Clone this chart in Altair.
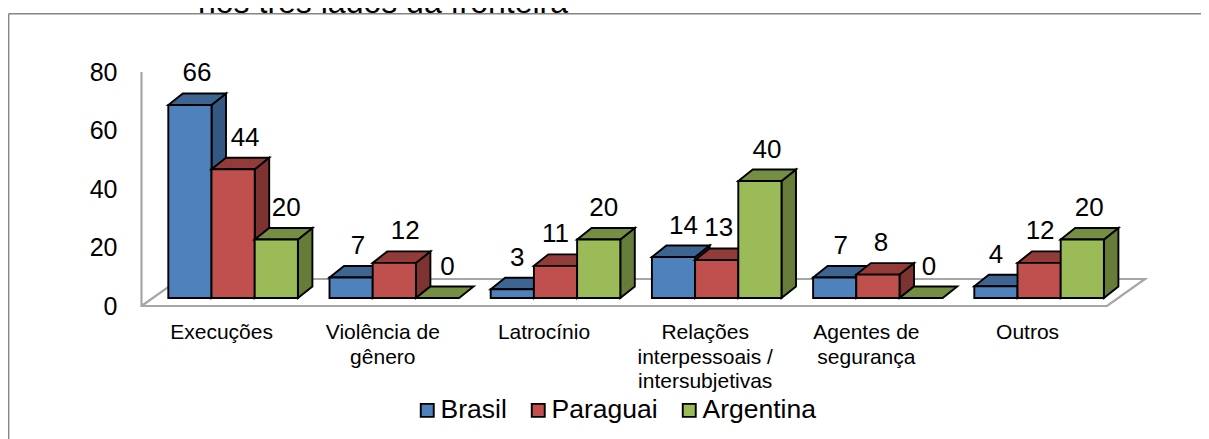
import altair as alt
import pandas as pd

categories = ["Execuções", "Violência de\ngênero", "Latrocínio",
              "Relações\ninterpessoais /\nintersubjetivas", "Agentes de\nsegurança", "Outros"]
series = ["Brasil", "Paraguai", "Argentina"]
brasil = [66, 7, 3, 14, 7, 4]
paraguai = [44, 12, 11, 13, 8, 12]
argentina = [20, 0, 20, 40, 0, 20]
values = [brasil, paraguai, argentina]
ticks = [0, 20, 40, 60, 80]
front_colors = ["#4F81BD", "#C0504D", "#9BBB59"]
top_colors = ["#3E6592", "#923B39", "#758E44"]
side_colors = ["#355882", "#7D3331", "#667C38"]
title_text = "nos três lados da fronteira"

W, H = 1193, 431
PERIOD = 161.2          # px per category
BAR = 43.2              # px per bar
PXU = 2.925             # px per y unit
X0 = 160.3              # first bar's left edge inside the svg, px
Y0 = 298                # y=0 of the axis inside the svg, px
DX, DY = 14.5, 11.5     # 3-D depth of a bar
BASE = 8 / PXU          # bars stand this far in front of the axis' zero
FLOOR_DEPTH = 27 / PXU
LABEL_SHIFT = [[7, 7, 5, 10, 6, 0], [12, 11, 0, 2, 3, 1], [10, 10, 5, 7, 8, 7]]
EDGE = 1.9

x_scale = alt.Scale(domain=[0, W], range=[0, W], nice=False, zero=False)
y_scale = alt.Scale(domain=[-(H - Y0) / PXU, Y0 / PXU], range=[H, 0], nice=False, zero=False)
y_axis = alt.Axis(values=ticks, domain=False, ticks=False, grid=False, title=None, offset=-109,
                  labelFont="Liberation Sans", labelFontSize=25, labelColor="black", labelPadding=0)
X = lambda f: alt.X(f, type="quantitative", scale=x_scale, axis=None)
Y = lambda f: alt.Y(f, type="quantitative", scale=y_scale, axis=y_axis)

dy_u = DY / PXU
layers = []

# frame (left and top sides; the right side runs off the picture)
frame = pd.DataFrame({"x": [0.7, 0.7], "x2": [0.7, W], "y": [431, 5.7], "y2": [5.7, 5.7]})
layers.append(alt.Chart(frame).transform_calculate(
    yv=f"({Y0}-datum.y)/{PXU}", yv2=f"({Y0}-datum.y2)/{PXU}"
).mark_rule(color="#858585", strokeWidth=1.4).encode(
    x=X("x"), x2="x2:Q", y=Y("yv"), y2="yv2:Q"))

# floor and wall
fx0, fx1 = 133.5, 1099
floor = pd.DataFrame({"x": [fx0, fx0 + 38, fx1 + 38, fx1, fx0, fx0],
                      "v": [0, FLOOR_DEPTH, FLOOR_DEPTH, 0, 0, 80],
                      "o": range(6)})
layers.append(alt.Chart(floor).mark_line(color="#A6A6A6", strokeWidth=2.2).encode(
    x=X("x"), y=Y("v"), order="o:Q"))


def face(rows, col):
    return alt.Chart(pd.DataFrame(rows)).mark_area(
        orient="vertical", fill=col, stroke="black", strokeWidth=EDGE, strokeJoin="miter", opacity=1).encode(
        x=X("px"), y=Y("lo"), y2="hi:Q")


# bars
for j, name in enumerate(series):
    fronts = []
    for i, v in enumerate(values[j]):
        x0 = X0 + i * PERIOD + j * BAR
        x1 = x0 + BAR
        b, t = BASE, BASE + v
        if v > 0:
            layers.append(face([dict(px=x1, lo=b, hi=t), dict(px=x1 + DX, lo=b + dy_u, hi=t + dy_u)], side_colors[j]))
            fronts.append(dict(s=name, x=x0, x2=x1, lo=b, hi=t))
        layers.append(face([dict(px=x0, lo=t, hi=t), dict(px=x0 + DX, lo=t, hi=t + dy_u),
                            dict(px=x1, lo=t, hi=t + dy_u), dict(px=x1 + DX, lo=t + dy_u, hi=t + dy_u)], top_colors[j]))
    layers.append(alt.Chart(pd.DataFrame(fronts)).mark_rect(stroke="black", strokeWidth=EDGE).encode(
        x=X("x"), x2="x2:Q", y=Y("lo"), y2="hi:Q",
        color=alt.Color("s:N", scale=alt.Scale(domain=series, range=front_colors), title=None,
                        legend=alt.Legend(orient="none", legendX=406, legendY=389, direction="horizontal",
                                          symbolType="square", symbolSize=169, symbolStrokeColor="black",
                                          symbolStrokeWidth=1.9, labelFont="Liberation Sans", labelFontSize=26.5,
                                          labelColor="black", columnPadding=18, labelOffset=0, padding=0,
                                          labelLimit=0, symbolOpacity=1))))

# value labels
labels = pd.DataFrame([
    dict(x=X0 + i * PERIOD + (j + 0.5) * BAR + LABEL_SHIFT[j][i], y=BASE + v + dy_u + 20 / PXU, t=str(v))
    for j in range(3) for i, v in enumerate(values[j])])
layers.append(alt.Chart(labels).mark_text(font="Liberation Sans", fontSize=26, color="black", baseline="middle").encode(
    x=X("x"), y=Y("y"), text="t:N"))

# category labels
cats = pd.DataFrame([dict(x=X0 + i * PERIOD + 1.5 * BAR - 11.5, y=-(314 - Y0) / PXU, t=c) for i, c in enumerate(categories)])
layers.append(alt.Chart(cats).mark_text(font="Liberation Sans", fontSize=21, color="black", baseline="top",
                                        lineBreak="\n", lineHeight=24.7).encode(
    x=X("x"), y=Y("y"), text="t:N"))

# title, cut by the top of the picture as in the reference
layers.append(alt.Chart(pd.DataFrame({"t": [title_text]})).mark_text(
    font="Liberation Sans", fontSize=32, color="black", align="left", baseline="alphabetic").encode(
    x=alt.value(190), y=alt.value(5), text="t:N"))

chart = alt.layer(*layers).resolve_scale(x="shared", y="shared").properties(
    width=W, height=H, padding=0, autosize=alt.AutoSizeParams(type="none"),
    background="white",
).configure_view(stroke=None)

chart.save("out.html", embed_options={"renderer": "svg", "actions": False})
